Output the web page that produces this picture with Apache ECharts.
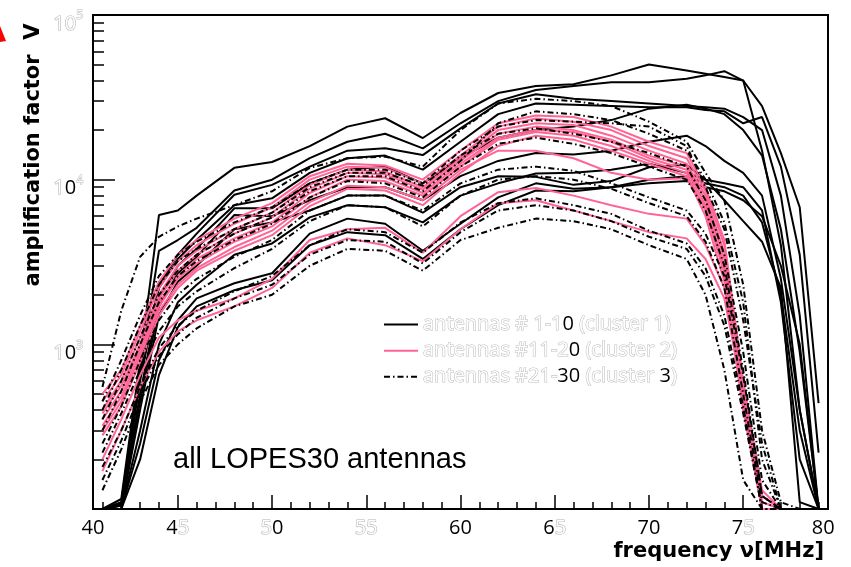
<!DOCTYPE html>
<html><head><meta charset="utf-8">
<script src="https://cdn.jsdelivr.net/npm/echarts@6/dist/echarts.min.js"></script>
<style>html,body{margin:0;padding:0;background:#fff}#c{width:851px;height:567px}</style>
</head><body><div id="c"></div>
<script>
// frequency grid (MHz)
const freqs = [41,42,43,44,45,46,48,50,52,54,56,58,60,62,64,66,68,70,72,73,74,75,76,77,78,79];

// cluster 1: antennas 1-10 (black solid)
const cluster1 = [
  [100,115,800,6100,6500,8000,11800,12800,16000,21000,23600,17900,25400,33600,37000,38000,43000,50000,46000,44000,42000,40000,15000,4000,400,100],
  [100,110,700,3700,4300,5100,8600,10000,13500,17000,19000,15500,22000,30000,35000,37000,39000,39000,41000,43000,45600,40000,28000,14500,6800,440],
  [100,105,650,2300,3500,4700,8100,9300,12000,15000,15500,14100,20500,29000,33000,31000,30000,29000,28000,27500,27000,24000,20000,8000,1500,100],
  [100,108,600,2200,3300,4300,7000,7700,11000,13500,14000,11500,17000,25000,29000,28500,28000,27500,27500,26500,26000,22000,24000,12000,3500,220],
  [100,105,500,1900,3000,3800,6700,6700,9500,11500,12000,9500,13500,18000,20000,21000,23000,27000,28500,27000,25000,20000,14000,5000,900,100],
  [100,105,450,1700,2700,3400,6100,6000,7500,9000,9000,7500,10500,13000,14500,14200,15000,17000,18500,16000,13000,11000,8000,2500,400,100],
  [100,100,400,1500,2400,3000,5000,5500,6500,8000,8000,6300,9000,10500,10400,9300,9800,11900,12300,10000,7500,5600,4200,2200,110,100],
  [100,100,300,1000,1800,2300,3500,4100,5900,7000,6800,5500,8000,9500,10900,11000,11500,12500,11000,10000,9500,9000,6500,1800,200,100],
  [100,100,250,800,1400,1900,2350,2700,4700,5800,5400,3700,5400,7800,9500,8800,9000,10000,10500,9500,9000,8000,5500,2000,300,100],
  [100,100,200,650,1270,1700,2130,2450,4000,4800,4600,3300,5000,7000,8600,8500,9000,9500,9800,9000,8500,7500,6000,3000,1000,100]
];

// cluster 2: antennas 11-20 (pink solid)
const cluster2 = [
  [500,700,1300,2400,3500,4300,5800,7200,10500,12500,12200,10000,15000,22000,24500,24000,21000,17000,14500,9000,4300,600,130,100,100,100],
  [450,650,1200,2200,3200,4000,5400,6800,10000,12000,11800,9500,14000,21000,23500,22500,20000,16000,13500,8500,4000,560,120,100,100,100],
  [400,600,1100,2000,3000,3700,5000,6300,9300,11500,11200,9000,13500,20000,22000,21500,18500,15000,12500,8000,3600,520,110,100,100,100],
  [380,560,1000,1900,2800,3500,4700,5900,8800,11000,10800,8700,13000,19000,21000,20000,17500,14000,12000,7500,3300,480,110,100,100,100],
  [350,520,950,1800,2600,3300,4400,5500,8300,10500,10300,8300,12500,18000,20000,19500,17000,13500,11500,7000,3000,450,100,100,100,100],
  [320,480,900,1700,2500,3100,4200,5200,7800,10000,9800,8000,12000,17500,19500,18500,16000,13000,11000,6500,2700,430,100,100,100,100],
  [300,450,850,1600,2300,2900,3900,4900,7300,9200,9000,7500,11500,15000,15000,13500,11000,10000,10200,6800,2900,470,100,100,100,100],
  [280,420,780,1500,2200,2800,3700,4600,6900,8800,8600,7000,11000,16000,18500,17500,15000,12500,10500,6000,2400,400,100,100,100,100],
  [170,300,550,900,1200,1400,1700,2200,3600,4400,4000,3200,5000,7200,7500,6500,5600,4800,4400,3300,1900,500,100,100,100,100],
  [200,350,650,1100,1400,1600,1900,2500,4300,5000,5100,3600,6000,8400,8900,8000,7000,6200,5800,4000,2200,550,120,100,100,100]
];

// cluster 3: antennas 21-30 (black dash-dot)
const cluster3 = [
  [550,1600,3400,4500,5200,5800,7000,8500,11800,13500,13800,12000,20000,29000,31000,30000,28000,22500,17000,11000,7500,2300,300,110,100,100],
  [450,800,1500,2600,3500,4200,5500,6800,9500,11500,11500,9500,15000,21000,23000,22500,22000,21000,16000,9000,5000,1400,250,100,100,100],
  [400,700,1300,2300,3200,3800,5000,6300,9000,11000,11000,9200,14000,19000,20500,19000,17000,14500,12000,7500,3500,900,150,100,100,100],
  [300,520,1000,1800,2600,3200,4300,5400,7800,9800,9500,7800,12000,16500,18000,16500,14500,12000,10000,6500,3000,700,120,100,100,100],
  [250,420,800,1400,2000,2500,3400,4300,6500,8000,8000,6500,9500,11500,12000,11300,9500,7800,6500,4700,2600,650,120,100,100,100],
  [220,380,700,1200,1700,2100,2900,3800,5600,7000,6800,5200,8000,10000,10500,10000,8800,7200,6000,4200,2200,500,110,100,100,100],
  [180,300,550,950,1300,1600,2100,2600,4000,5000,4800,3600,5500,7200,7700,7000,6200,4900,4100,2900,1500,420,100,100,100,100],
  [150,260,500,850,1150,1450,1900,2300,3500,4300,4200,3100,4800,6500,7000,6500,5600,4500,3800,2600,1300,380,100,100,100,100],
  [130,230,450,750,1000,1250,1700,2000,3000,3800,3700,2800,4300,5100,5800,5600,5000,4000,3300,2000,700,150,100,100,100,100],
  [350,600,1100,2000,2800,3500,4700,5900,8500,10500,10500,8500,13000,22000,26000,25000,23000,19000,15000,10000,5500,1800,200,100,100,100]
];

const clusterNames = ['antennas # 1-10 (cluster 1)', 'antennas #11-20 (cluster 2)', 'antennas #21-30 (cluster 3)'];
const xTickLabels = ['40','45','50','55','60','65','70','75','80'];
const yTickLabels = ['10^3','10^4','10^5'];

const OUT = '125';
function rt(s) {
  return s.split('').map(c => '{' + (OUT.includes(c) ? 'o' : 'b') + '|' + c + '}').join('');
}
const PINK = '#ff6495';
const series = [];
const styles = [
  {color:'#000', type:'solid'},
  {color:PINK, type:'solid'},
  {color:'#000', type:[6,3,1.5,3]}
];
[cluster1, cluster2, cluster3].forEach((cl, ci) => {
  cl.forEach(arr => {
    series.push({
      name: clusterNames[ci], type:'line', symbol:'none', xAxisIndex:0, yAxisIndex:0,
      lineStyle:{color:styles[ci].color, width:2, type:styles[ci].type},
      itemStyle:{color:styles[ci].color},
      data: freqs.map((f,i)=>[f, arr[i]]),
      animation:false, silent:true
    });
  });
});

const baseFont = '"Open Sans", sans-serif';
const richTick = {
  o:{fontSize:20, fontFamily:baseFont, color:'#fff', textBorderColor:'#b5b5b5', textBorderWidth:1.2, lineHeight:24, verticalAlign:'bottom'},
  b:{fontSize:20, fontFamily:baseFont, color:'#000', lineHeight:24, verticalAlign:'bottom'},
  so:{fontSize:12, fontFamily:baseFont, color:'#fff', textBorderColor:'#b5b5b5', textBorderWidth:1, lineHeight:24, verticalAlign:'top'}
};
const xLabelPos = [40.5,45,50,55,60,65,70,75,79.25];
const yLabelPos = [1000,10000,100000];
const yMinor = [];
[100,1000,10000].forEach(d => { for (let k=2;k<=9;k++) yMinor.push(d*k); });
const xMinor = [];
for (let f=41; f<=79; f++) if (f%5) xMinor.push(f);

function legendRich(name, i) {
  let blackIdx;
  if (i < 2) blackIdx = [name.indexOf('0')];
  else { const p = name.indexOf('30'); blackIdx = [p, p+1, name.lastIndexOf('3')]; }
  return name.split('').map((c,k)=>'{'+(blackIdx.includes(k)?'b':'o')+'|'+c+'}').join('');
}

const chart = echarts.init(document.getElementById('c'), null, {renderer:'canvas'});
chart.setOption({
  backgroundColor:'#fff',
  animation:false,
  grid:{left:93, right:23, top:15, bottom:58, show:true, borderColor:'#000', borderWidth:2},
  xAxis:[
    {type:'value', min:40.5, max:79.5, position:'bottom',
     axisLine:{show:true, lineStyle:{color:'#000', width:2}},
     axisTick:{show:true, inside:true, length:14, customValues:[45,50,55,60,65,70,75], lineStyle:{color:'#000', width:1.5}},
     axisLabel:{show:true, customValues:xLabelPos, margin:5,
       formatter:(v)=>{const i = xLabelPos.indexOf(v); return rt(i>=0?xTickLabels[i]:'');}, rich:richTick},
     splitLine:{show:false}},
    {type:'value', min:40.5, max:79.5, position:'bottom',
     axisLine:{show:false},
     axisTick:{show:true, inside:true, length:7, customValues:xMinor, lineStyle:{color:'#000', width:1.5}},
     axisLabel:{show:false}, splitLine:{show:false}}
  ],
  yAxis:[
    {type:'log', logBase:10, min:100, max:100000, position:'left',
     axisLine:{show:true, lineStyle:{color:'#000', width:2}},
     axisTick:{show:true, inside:true, length:22, customValues:[1000,10000], lineStyle:{color:'#000', width:1.5}},
     axisLabel:{show:true, customValues:yLabelPos, margin:10, padding:[14,0,0,0],
       formatter:(v)=>{
         const i = yLabelPos.findIndex(p=>Math.abs(p-v)<1e-6*p);
         const t = i>=0 ? yTickLabels[i] : '';
         const parts = t.split('^');
         const base = i===2 ? '{o|1}{o|0}' : rt(parts[0]);
         return base + '{so|' + (parts[1]||'') + '}';
       }, rich:richTick},
     splitLine:{show:false}},
    {type:'log', logBase:10, min:100, max:100000, position:'left',
     axisLine:{show:false},
     axisTick:{show:true, inside:true, length:11, customValues:yMinor, lineStyle:{color:'#000', width:1.5}},
     axisLabel:{show:false}, splitLine:{show:false}}
  ],
  legend:{
    show:true, orient:'vertical', left:378, top:309, itemGap:5, itemWidth:34, itemHeight:14,
    data:clusterNames, selectedMode:false,
    itemStyle:{opacity:0},
    formatter:(name)=>legendRich(name, clusterNames.indexOf(name)),
    textStyle:{rich:{
      o:{fontSize:20, fontFamily:baseFont, color:'#fff', textBorderColor:'#bdbdbd', textBorderWidth:1.1},
      b:{fontSize:20, fontFamily:baseFont, color:'#000'}
    }}
  },
  graphic:[
    {type:'polygon', shape:{points:[[0,26],[6,41],[0,42]]}, style:{fill:'#ff0000'}},
    {type:'text', x:34, y:155, rotation:Math.PI/2, style:{text:'amplification factor  V', font:'bold 21px "DejaVu Sans"', fill:'#000', align:'center', verticalAlign:'middle'}},
    {type:'text', x:824, y:552, style:{text:'frequency ν[MHz]', font:'bold 21px "DejaVu Sans"', fill:'#000', align:'right', verticalAlign:'middle'}},
    {type:'text', x:173, y:460, style:{text:'all LOPES30 antennas', font:'29px "Liberation Sans"', fill:'#000', align:'left', verticalAlign:'middle'}}
  ],
  series: series
});
</script>
</body></html>
